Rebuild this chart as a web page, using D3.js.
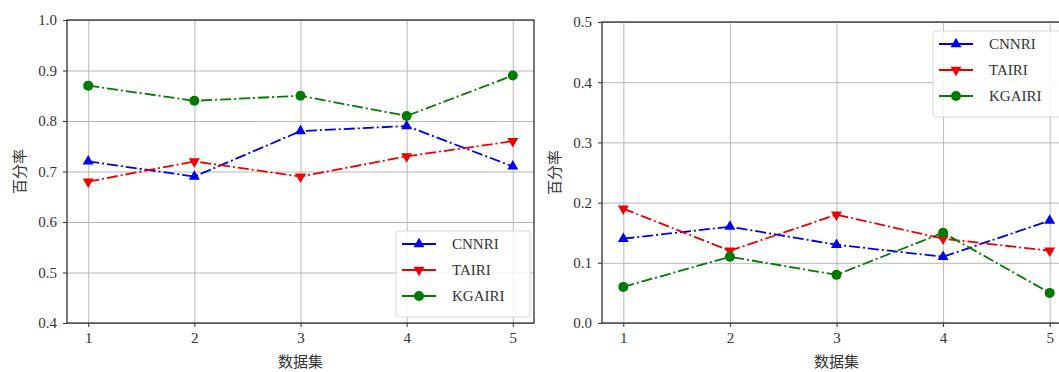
<!DOCTYPE html>
<html>
<head>
  <meta charset="utf-8">
  <title>百分率 by 数据集</title>
  <style>
    body { margin: 0; padding: 0; background: #fff; }
    svg text { font-family: "Liberation Serif", "DejaVu Serif", serif; fill: #333; }
    .cjk { font-family: "Noto Sans CJK SC", sans-serif !important; }
    .grid line { stroke: #b8b8b8; stroke-width: 1; }
    .grid path { display: none; }
  </style>
  <script src="https://d3js.org/d3.v7.min.js"></script>
</head>
<body>
<div id="chart"></div>
<script>
  // data
  const datasets = [1, 2, 3, 4, 5];
  const seriesNames = ["CNNRI", "TAIRI", "KGAIRI"];

  // left panel
  const leftCNNRI = [0.72, 0.69, 0.78, 0.79, 0.71];
  const leftTAIRI = [0.68, 0.72, 0.69, 0.73, 0.76];
  const leftKGAIRI = [0.87, 0.84, 0.85, 0.81, 0.89];
  const leftTicks = [0.4, 0.5, 0.6, 0.7, 0.8, 0.9, 1.0];

  // right panel
  const rightCNNRI = [0.14, 0.16, 0.13, 0.11, 0.17];
  const rightTAIRI = [0.19, 0.12, 0.18, 0.14, 0.12];
  const rightKGAIRI = [0.06, 0.11, 0.08, 0.15, 0.05];
  const rightTicks = [0.0, 0.1, 0.2, 0.3, 0.4, 0.5];

  const colors = ["#0000ee", "#ee0000", "#007a00"];
  const markers = ["up", "down", "circle"];

  const svg = d3.select("#chart").append("svg")
    .attr("width", 1059)
    .attr("height", 372);

  function drawMarker(g, type, x, y, color) {
    if (type === "circle") {
      g.append("circle").attr("cx", x).attr("cy", y).attr("r", 5).attr("fill", color);
    } else {
      const s = d3.symbol().type(d3.symbolTriangle).size(52);
      g.append("path").attr("d", s)
        .attr("transform", `translate(${x},${y})` + (type === "down" ? " rotate(180)" : ""))
        .attr("fill", color);
    }
  }

  function drawPanel(opts) {
    const { left, right, top, bottom, yDomain, yTicks, series, legendX, legendY } = opts;
    const g = svg.append("g");

    const x = d3.scaleLinear().domain([0.8, 5.2]).range([left, right]);
    const y = d3.scaleLinear().domain(yDomain).range([bottom, top]);

    // grid
    g.append("g").attr("class", "grid")
      .attr("transform", `translate(0,${bottom})`)
      .call(d3.axisBottom(x).tickValues(datasets).tickSize(-(bottom - top)).tickFormat(""));
    g.append("g").attr("class", "grid")
      .attr("transform", `translate(${left},0)`)
      .call(d3.axisLeft(y).tickValues(yTicks).tickSize(-(right - left)).tickFormat(""));

    // lines + markers
    series.forEach((vals, i) => {
      const line = d3.line().x((d, j) => x(datasets[j])).y(d => y(d));
      g.append("path").datum(vals)
        .attr("d", line)
        .attr("fill", "none")
        .attr("stroke", colors[i])
        .attr("stroke-width", 1.8)
        .attr("stroke-dasharray", "11,3,2,3");
      vals.forEach((v, j) => drawMarker(g, markers[i], x(datasets[j]), y(v), colors[i]));
    });

    // frame
    g.append("rect")
      .attr("x", left).attr("y", top)
      .attr("width", right - left).attr("height", bottom - top)
      .attr("fill", "none").attr("stroke", "#222").attr("stroke-width", 1.2);

    // axes
    const xAxis = g.append("g")
      .attr("transform", `translate(0,${bottom})`)
      .call(d3.axisBottom(x).tickValues(datasets).tickFormat(d3.format("d")).tickSizeOuter(0).tickSize(4));
    const yAxis = g.append("g")
      .attr("transform", `translate(${left},0)`)
      .call(d3.axisLeft(y).tickValues(yTicks).tickFormat(d3.format(".1f")).tickSizeOuter(0).tickSize(4));
    [xAxis, yAxis].forEach(a => {
      a.select(".domain").remove();
      a.selectAll(".tick line").attr("stroke", "#333");
      a.selectAll("text").style("font-family", "Liberation Serif, serif")
        .style("font-size", "15px").attr("fill", "#444");
    });
    xAxis.selectAll("text").attr("dy", "0.85em");
    yAxis.selectAll("text").attr("dx", "-0.2em");

    // axis titles
    g.append("text").attr("class", "cjk")
      .attr("x", (left + right) / 2).attr("y", bottom + 44)
      .attr("text-anchor", "middle").style("font-size", "15px")
      .attr("fill", "#333").text("数据集");
    g.append("text").attr("class", "cjk")
      .attr("transform", `translate(${left - 42},${(top + bottom) / 2}) rotate(-90)`)
      .attr("text-anchor", "middle").style("font-size", "15px")
      .attr("fill", "#333").text("百分率");

    // legend
    const lg = g.append("g").attr("transform", `translate(${legendX},${legendY})`);
    lg.append("rect").attr("x", 0).attr("y", 0).attr("width", 134).attr("height", 86)
      .attr("rx", 3).attr("fill", "#fff").attr("fill-opacity", 0.85)
      .attr("stroke", "#d8d8d8");
    seriesNames.forEach((name, i) => {
      const yy = 13 + i * 26;
      lg.append("line").attr("x1", 6).attr("x2", 40).attr("y1", yy).attr("y2", yy)
        .attr("stroke", colors[i]).attr("stroke-width", 1.8);
      drawMarker(lg, markers[i], 23, yy, colors[i]);
      lg.append("text").attr("x", 56).attr("y", yy + 5)
        .style("font-size", "15px").attr("fill", "#333").text(name);
    });
  }

  drawPanel({
    left: 67, right: 534, top: 20, bottom: 323,
    yDomain: [0.4, 1.0], yTicks: leftTicks,
    series: [leftCNNRI, leftTAIRI, leftKGAIRI],
    legendX: 396, legendY: 231
  });

  drawPanel({
    left: 602, right: 1071, top: 22, bottom: 323,
    yDomain: [0.0, 0.5], yTicks: rightTicks,
    series: [rightCNNRI, rightTAIRI, rightKGAIRI],
    legendX: 933, legendY: 31
  });
</script>
</body>
</html>
